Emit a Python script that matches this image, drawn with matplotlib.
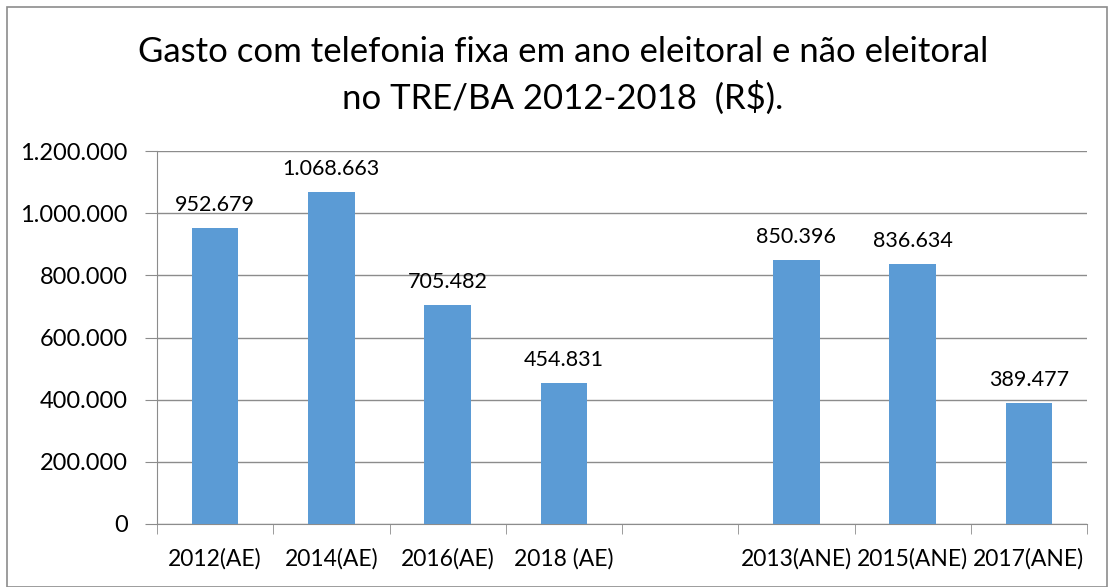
import matplotlib.pyplot as plt
import matplotlib.ticker as mticker
from matplotlib.patches import Rectangle
import numpy as np

# Dados (R$)
categorias = ['2012(AE)', '2014(AE)', '2016(AE)', '2018 (AE)', '',
              '2013(ANE)', '2015(ANE)', '2017(ANE)']
valores = [952679, 1068663, 705482, 454831, None, 850396, 836634, 389477]
y_ticks = [0, 200000, 400000, 600000, 800000, 1000000, 1200000]

plt.rcParams['font.family'] = ['Lato', 'DejaVu Sans']


def fmt_br(v):
    # separador de milhar com ponto
    return f"{int(v):,}".replace(',', '.')


fig = plt.figure(figsize=(11.08, 5.87), dpi=100)
fig.patch.set_facecolor('white')
ax = fig.add_axes([157 / 1108, 63 / 587, 930 / 1108, 373 / 587])

x = np.arange(len(categorias))
alturas = [v if v is not None else 0 for v in valores]
bars = ax.bar(x, alturas, width=0.4, color='#5B9BD5', zorder=3)

for xi, v in zip(x, valores):
    if v is None:
        continue
    ax.annotate(fmt_br(v), (xi, v), xytext=(0, 9), textcoords='offset points',
                ha='center', va='bottom', fontsize=15.5)

ax.set_xlim(-0.5, len(categorias) - 0.5)
ax.set_ylim(0, 1200000)
ax.set_yticks(y_ticks)
ax.yaxis.set_major_formatter(mticker.FuncFormatter(lambda v, p: fmt_br(v)))
ax.grid(axis='y', color='#8c8c8c', linewidth=1, zorder=0)

# categorias no centro, ticks nas divisões
ax.set_xticks(x)
ax.set_xticklabels(categorias)
ax.set_xticks(np.arange(len(categorias) + 1) - 0.5, minor=True)
ax.tick_params(axis='x', which='major', length=0, pad=17, labelsize=16.5)
ax.tick_params(axis='x', which='minor', length=7, color='#8c8c8c', direction='out')
ax.tick_params(axis='y', length=9, color='#8c8c8c', labelsize=17, pad=12)

for s in ['top', 'right']:
    ax.spines[s].set_visible(False)
ax.spines['left'].set_color('#8c8c8c')
ax.spines['bottom'].set_color('#8c8c8c')

fig.text(563 / 1108, 1 - 52 / 587, 'Gasto com telefonia fixa em ano eleitoral e não eleitoral',
         ha='center', va='center', fontsize=25)
fig.text(563 / 1108, 1 - 98 / 587, 'no TRE/BA 2012-2018  (R$).',
         ha='center', va='center', fontsize=25)

# borda externa do gráfico
fig.patches.append(Rectangle((7 / 1108, 0.5 / 587), 1100 / 1108, 580 / 587,
                             transform=fig.transFigure, fill=False,
                             edgecolor='#8c8c8c', linewidth=1.2))

fig.savefig('out.png', dpi=100)
